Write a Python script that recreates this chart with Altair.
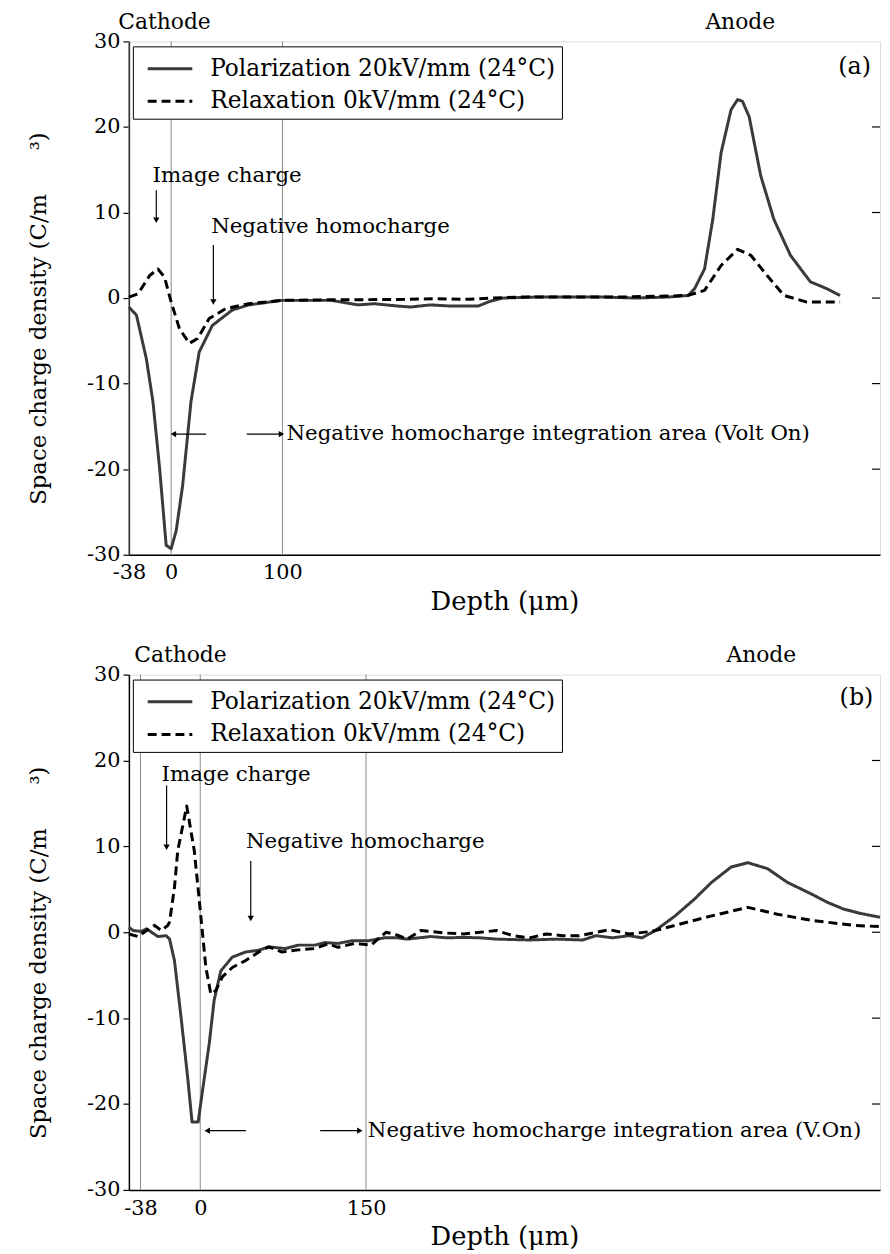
import altair as alt
import pandas as pd

FONT = "DejaVu Serif"
SERIES = ["Polarization 20kV/mm (24°C)", "Relaxation 0kV/mm (24°C)"]
Y_TICKS = [-30, -20, -10, 0, 10, 20, 30]
RIGHT_TICKS = [-20, -10, 0, 10, 20]

# ---------------- panel (a) ----------------
a_pol_x = [-38, -31.2, -22.3, -16.4, -10.4, -4.5, 0, 4.5, 10.3, 17.8, 25.2, 37, 54.9, 69.7, 99.4,
           143.9, 167.7, 182.5, 203.3, 215.1, 232.9, 250.8, 276, 286.4, 298.3, 328, 357.6, 387.4,
           417, 446.7, 464.5, 470.4, 479.3, 486.7, 494.2, 503.1, 509, 513.4, 519.4, 529.8, 541.6,
           556.5, 574.4, 589.1, 601.1]
a_pol_y = [-1.05, -2.0, -7.1, -12.1, -19.9, -28.9, -29.3, -27.2, -21.9, -12.1, -6.3, -3.2, -1.4,
           -0.8, -0.27, -0.27, -0.8, -0.66, -0.93, -1.05, -0.8, -0.93, -0.93, -0.38, 0.0, 0.12,
           0.12, 0.12, 0.0, 0.12, 0.3, 1.1, 3.4, 9.2, 17.0, 22.0, 23.2, 23.0, 21.2, 14.3, 9.2, 5.0,
           1.9, 1.1, 0.3]
a_rel_x = [-38, -29.7, -19.3, -11.9, -6.0, 0, 7.4, 16.3, 23.7, 34.1, 49.0, 69.7, 99.4, 143.6,
           203.3, 239.0, 268.3, 286.4, 313.1, 401.9, 446.4, 464.5, 479.3, 494.2, 509.0, 520.9,
           535.7, 550.6, 571.3, 601.1]
a_rel_y = [0.12, 0.5, 2.64, 3.4, 2.44, -0.47, -3.57, -5.3, -4.73, -2.4, -1.24, -0.66, -0.27, -0.2,
           -0.17, -0.08, -0.15, 0.0, 0.12, 0.12, 0.23, 0.31, 0.9, 3.8, 5.7, 5.0, 2.6, 0.31, -0.47,
           -0.47]
a_x_ticks = [-38, 0, 100]
a_vlines = [-38, 0, 100]
a_text_left = ["Image charge", "Negative homocharge",
               "Negative homocharge integration area (Volt On)"]
a_text_left_x = [-16.7, 35.9, 103.6]
a_text_left_y = [14.3, 8.3, -15.9]
a_tag = ["(a)"]
a_tag_x = [628.9]
a_tag_y = [27.0]
a_varrow_x = [-13.4, 37.9]
a_varrow_y = [12.6, 6.2]
a_varrow_y2 = [9.1, -0.47]
a_harrow_x = [31.4, 67.9]
a_harrow_x2 = [2.0, 99.1]
a_harrow_y = [-15.9, -15.9]
a_elec = ["Cathode", "Anode"]
a_elec_x = [-6.0, 511.4]

# ---------------- panel (b) ----------------
b_pol_x = [-67, -56.3, -37.4, -34.2, -26.9, -21.6, -19.5, -16.4, -12.2, -8.0, -5.2, -1.3, 2.1, 8.1,
           12.6, 18.6, 29.0, 41.0, 53.0, 62.0, 76.9, 88.8, 103.8, 112.7, 124.6, 136.6, 151.6,
           166.5, 178.5, 187.4, 208.4, 223.3, 238.3, 253.2, 268.2, 298.0, 322.0, 346.0, 358.0,
           373.0, 388.0, 399.7, 411.7, 429.6, 447.5, 462.5, 480.4, 495.4, 513.3, 531.3, 552.2,
           567.1, 582.0, 597.0, 615.0]
b_pol_y = [0.58, 0.2, 0.1, 0.4, -0.5, -0.4, -0.8, -3.3, -9.9, -16.9, -22.1, -22.1, -18.4, -13.0,
           -7.9, -4.5, -2.9, -2.3, -2.1, -1.7, -1.9, -1.5, -1.5, -1.2, -1.3, -1.0, -1.0, -0.65,
           -0.65, -0.8, -0.5, -0.65, -0.6, -0.65, -0.8, -0.9, -0.8, -0.9, -0.4, -0.65, -0.4,
           -0.65, 0.2, 1.9, 3.9, 5.8, 7.6, 8.1, 7.4, 5.8, 4.5, 3.5, 2.7, 2.2, 1.75]
b_rel_x = [-67, -43.9, -34.2, -29.0, -24.8, -20.6, -19.5, -16.4, -14.3, -8.6, -3.8, -0.6, 5.1, 9.6,
           14.0, 20.0, 29.0, 41.0, 53.0, 62.0, 73.8, 88.8, 103.8, 115.7, 124.6, 139.6, 154.5,
           168.0, 175.5, 187.4, 199.5, 223.3, 238.3, 253.2, 268.2, 283.0, 298.0, 313.0, 328.0,
           343.0, 370.0, 388.0, 408.7, 432.6, 462.5, 495.4, 522.2, 552.2, 591.0, 615.0]
b_rel_y = [-0.2, -0.5, 0.2, 0.8, 0.2, 0.8, 1.2, 5.2, 9.5, 14.7, 9.5, 3.7, -4.1, -7.2, -6.8, -5.2,
           -4.1, -3.3, -2.3, -1.7, -2.3, -2.05, -1.9, -1.35, -1.75, -1.3, -1.5, 0.0, -0.2, -0.8,
           0.2, -0.1, -0.2, 0.0, 0.2, -0.4, -0.65, -0.2, -0.4, -0.4, 0.3, -0.2, 0.1, 0.9, 1.9,
           2.9, 2.1, 1.4, 0.8, 0.66]
b_x_ticks = [-38, 0, 150]
b_vlines = [-38, 0, 150]
b_text_left = ["Image charge", "Negative homocharge",
               "Negative homocharge integration area (V.On)"]
b_text_left_x = [-24.6, 41.3, 151.6]
b_text_left_y = [18.3, 10.5, -23.1]
b_tag = ["(b)"]
b_tag_x = [609.0]
b_tag_y = [27.3]
b_varrow_x = [-21.4, 45.7]
b_varrow_y = [17.1, 8.3]
b_varrow_y2 = [9.9, 1.6]
b_harrow_x = [41.3, 108.5]
b_harrow_x2 = [6.3, 144.4]
b_harrow_y = [-23.1, -23.1]
b_elec = ["Cathode", "Anode"]
b_elec_x = [-12.6, 507.6]

W = 758
YTITLE = "Space charge density (C/m" + "\u00a0" * 6 + "\u00b3)"


def lines_df(px, py, rx, ry):
    d1 = pd.DataFrame({"x": px, "y": py, "series": SERIES[0], "i": list(range(len(px)))})
    d2 = pd.DataFrame({"x": rx, "y": ry, "series": SERIES[1], "i": list(range(len(rx)))})
    return pd.concat([d1, d2], ignore_index=True)


def make_panel(ldf, xscale, xticks, vlines, tl, tlx, tly, tag, tagx, tagy,
               vax, vay, vay2, hax, hax2, hay, elec, elecx, lab_pad, title_pad, h):
    x = alt.X("x:Q", scale=xscale,
              axis=alt.Axis(values=xticks, labelExpr="datum.value + ''", ticks=False, grid=False,
                            domainColor="black", domainWidth=1.5, labelFont=FONT,
                            labelFontSize=21, labelColor="black", labelPadding=lab_pad,
                            labelFlush=False, title="Depth (\u03bcm)", titleFont=FONT,
                            titleFontSize=26, titleFontWeight="normal", titleColor="black",
                            titlePadding=title_pad))
    y = alt.Y("y:Q", scale=alt.Scale(domain=[-30, 30], nice=False, zero=False),
              axis=alt.Axis(values=Y_TICKS, labelExpr="datum.value + ''", tickSize=6,
                            tickColor="black", tickWidth=1.2, grid=False, domainColor="black",
                            domainWidth=1.5, labelFont=FONT, labelFontSize=21,
                            labelColor="black", labelPadding=3, title=YTITLE, titleFont=FONT,
                            titleFontSize=23, titleFontWeight="normal", titleColor="black",
                            titlePadding=36, titleY=h * 0.539))
    legend = alt.Legend(orient="none", legendX=4, legendY=5, title=None, strokeColor="black",
                        fillColor="white", padding=6, labelFont=FONT, labelFontSize=23.5,
                        labelColor="black", labelLimit=700, labelOffset=39,
                        symbolType="M-0.5,0H2.5", symbolSize=900, symbolStrokeWidth=3,
                        rowPadding=5)
    lines = alt.Chart(ldf).mark_line(strokeWidth=3, strokeJoin="round").encode(
        x=x, y=y,
        color=alt.Color("series:N", scale=alt.Scale(domain=SERIES, range=["#3a3a3a", "#000000"]),
                        legend=legend),
        strokeDash=alt.StrokeDash("series:N",
                                  scale=alt.Scale(domain=SERIES, range=[[1, 0], [9, 5]]),
                                  legend=legend),
        order="i:Q")
    rules = alt.Chart(pd.DataFrame({"x": vlines})).mark_rule(
        color="#8a8a8a", strokeWidth=1).encode(x=x)
    rticks = alt.Chart(pd.DataFrame({"y": RIGHT_TICKS})).mark_rule(
        color="black", strokeWidth=1.2).encode(y=y, x=alt.value(W - 8), x2=alt.value(W))
    texts = alt.Chart(pd.DataFrame({"x": tlx, "y": tly, "label": tl})).mark_text(
        align="left", baseline="middle", font=FONT, fontSize=21.5, color="black").encode(
        x=x, y=y, text="label:N")
    tags = alt.Chart(pd.DataFrame({"x": tagx, "y": tagy, "label": tag})).mark_text(
        align="right", baseline="middle", font=FONT, fontSize=24, color="black").encode(
        x=x, y=y, text="label:N")
    elecs = alt.Chart(pd.DataFrame({"x": elecx, "label": elec})).mark_text(
        align="center", baseline="middle", font=FONT, fontSize=22, color="black").encode(
        x=x, y=alt.value(-20), text="label:N")
    varr = alt.Chart(pd.DataFrame({"x": vax, "y": vay, "y2": vay2})).mark_rule(
        color="black", strokeWidth=1.2).encode(x=x, y=y, y2="y2:Q")
    harr = alt.Chart(pd.DataFrame({"x": hax, "x2": hax2, "y": hay})).mark_rule(
        color="black", strokeWidth=1.2).encode(x=x, x2="x2:Q", y=y)
    heads_df = pd.DataFrame({
        "x": list(vax) + list(hax2),
        "y": list(vay2) + list(hay),
        "shape": ["triangle-down"] * len(vax)
                 + ["triangle-left" if b < a else "triangle-right" for a, b in zip(hax, hax2)],
    })
    heads = alt.Chart(heads_df).mark_point(filled=True, size=40, color="black",
                                           opacity=1).encode(
        x=x, y=y, shape=alt.Shape("shape:N", scale=None))
    return alt.layer(rules, rticks, lines, varr, harr, heads, texts, tags, elecs).properties(
        width=W, height=h)


pa = make_panel(lines_df(a_pol_x, a_pol_y, a_rel_x, a_rel_y),
                alt.Scale(domain=[-38, 637], nice=False, zero=False),
                a_x_ticks, a_vlines, a_text_left, a_text_left_x, a_text_left_y,
                a_tag, a_tag_x, a_tag_y, a_varrow_x, a_varrow_y, a_varrow_y2,
                a_harrow_x, a_harrow_x2, a_harrow_y, a_elec, a_elec_x, 7, 6, 518)
pb = make_panel(lines_df(b_pol_x, b_pol_y, b_rel_x, b_rel_y),
                alt.Scale(domain=[-67, -38, 0, 615], range=[0, 11.7, 72, W], nice=False,
                          zero=False),
                b_x_ticks, b_vlines, b_text_left, b_text_left_x, b_text_left_y,
                b_tag, b_tag_x, b_tag_y, b_varrow_x, b_varrow_y, b_varrow_y2,
                b_harrow_x, b_harrow_x2, b_harrow_y, b_elec, b_elec_x, 8, 5, 520)

chart = alt.vconcat(pa, pb, spacing=28).resolve_scale(
    color="independent", strokeDash="independent").resolve_legend(
    color="independent", strokeDash="independent").properties(
    padding={"left": 19, "top": -4, "right": 0, "bottom": 0}).configure_view(
    stroke="black", strokeWidth=1.5).configure(font=FONT)

chart.save("out.html", embed_options={"renderer": "svg", "actions": False})
